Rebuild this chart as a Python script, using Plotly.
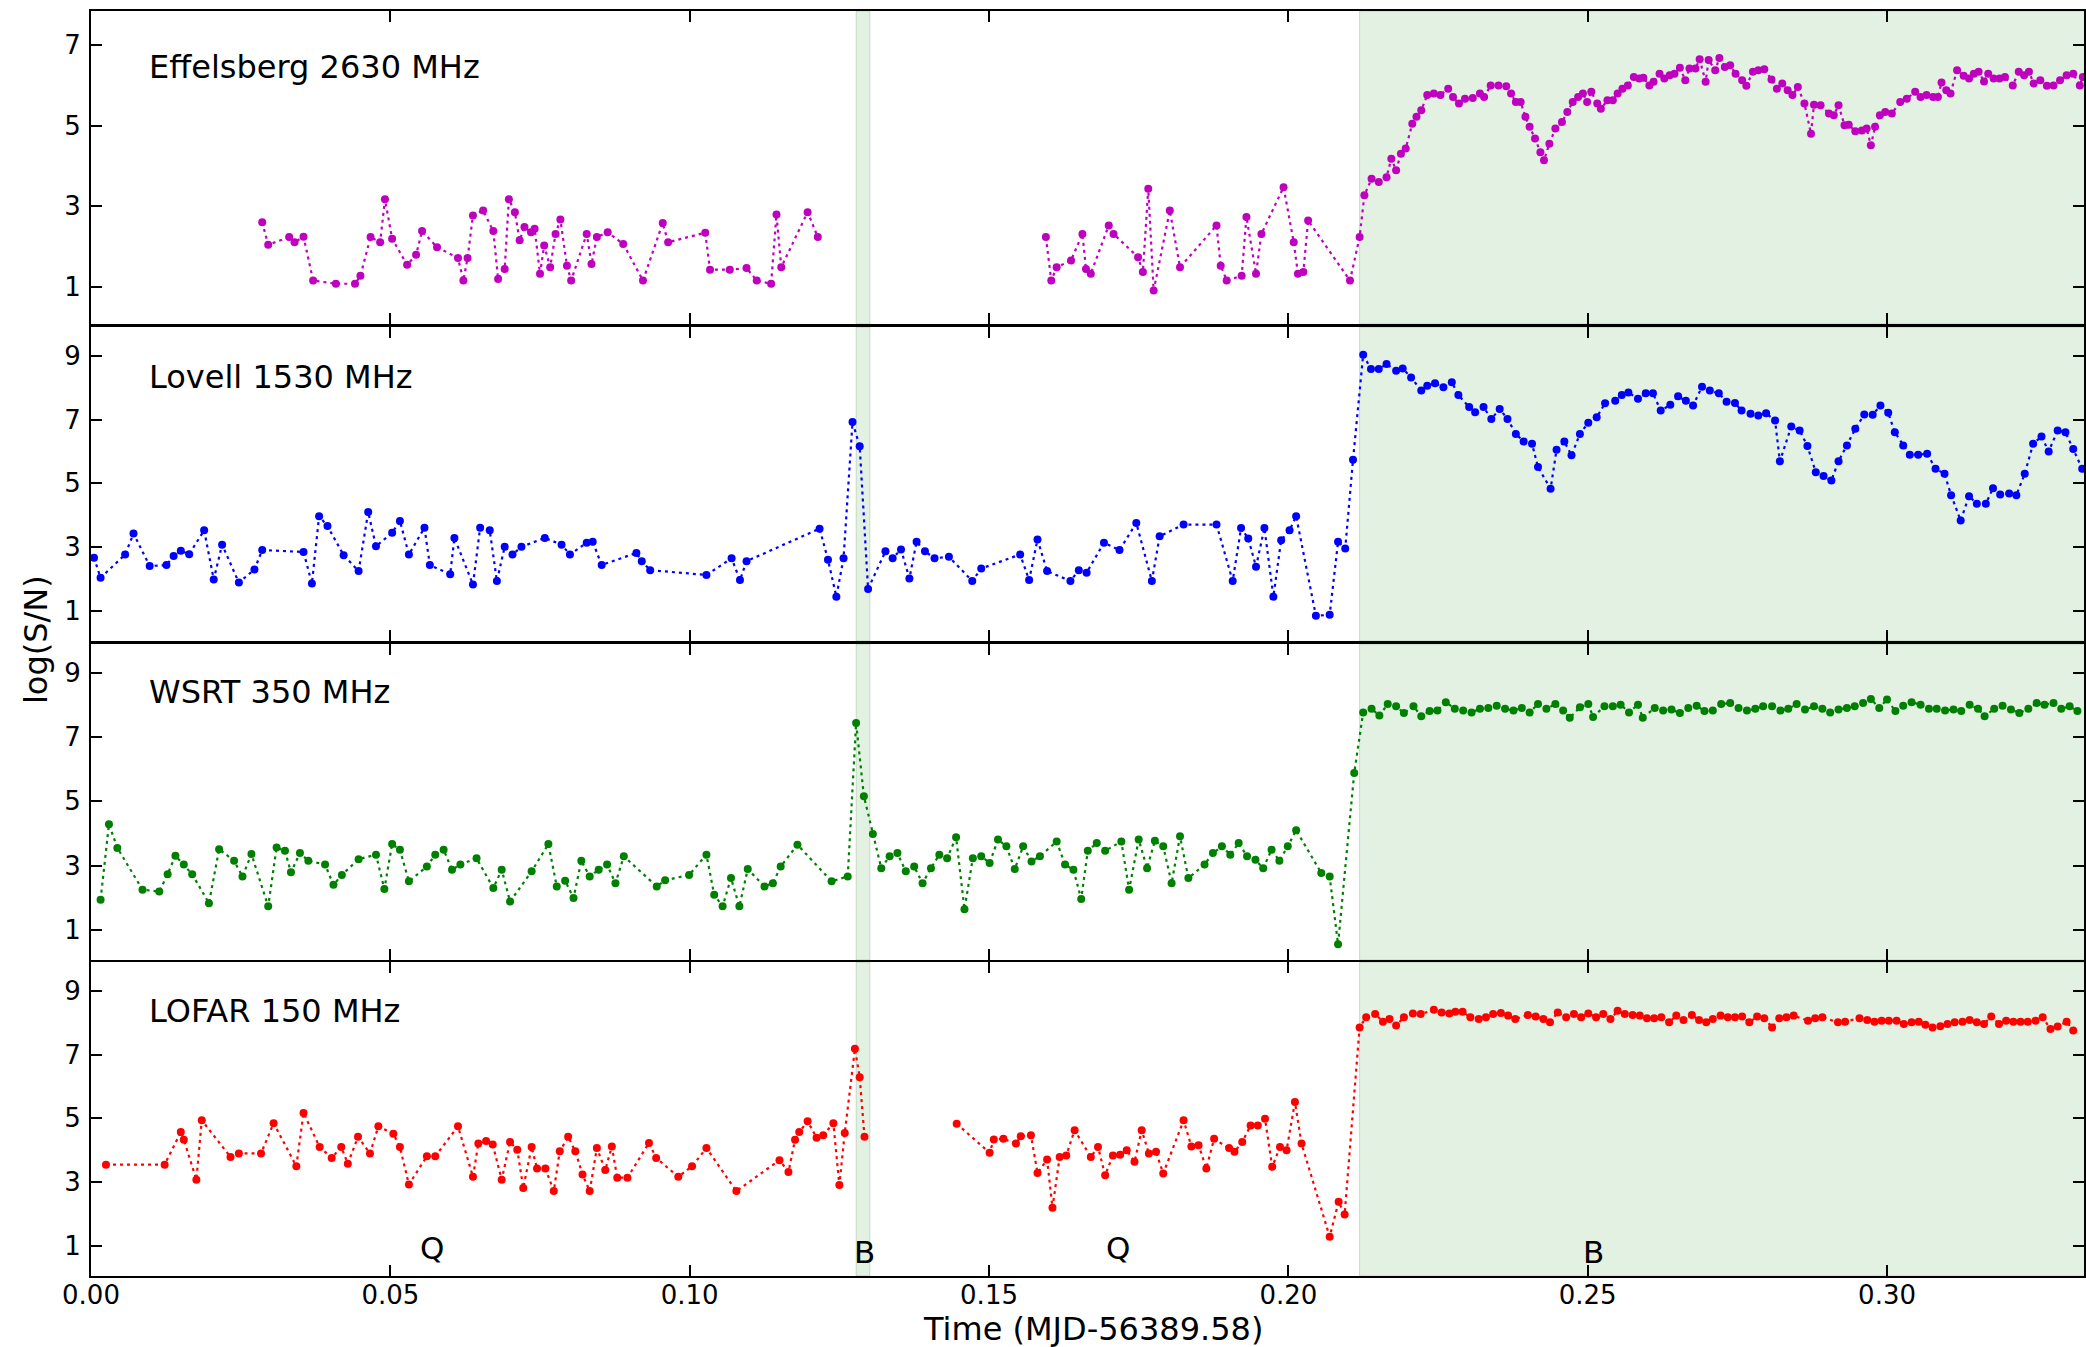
import plotly.graph_objects as go

# ---------------------------------------------------------------- data
# Time in days since MJD 56389.58, values are log(S/N).  None breaks the line.
eff_t = [0.0286, 0.0296, 0.0331, 0.0340, 0.0355, 0.0371, 0.0409, 0.0441, 0.0450, 0.0467,
         0.0483, 0.0491, 0.0503, 0.0528, 0.0543, 0.0553, 0.0578, 0.0613, 0.0622, 0.0629,
         0.0638, 0.0655, 0.0672, 0.0680, 0.0691, 0.0698, 0.0708, 0.0716, 0.0724, 0.0735,
         0.0741, 0.0750, 0.0757, 0.0767, 0.0776, 0.0784, 0.0795, 0.0802, 0.0828, 0.0836,
         0.0845, 0.0863, 0.0889, 0.0922, 0.0955, 0.0964, 0.1026, 0.1034, 0.1067, 0.1095,
         0.1112, 0.1136, 0.1145, 0.1153, 0.1197, 0.1214, None,
         0.1595, 0.1604, 0.1613, 0.1637, 0.1656, 0.1662, 0.1670, 0.1700, 0.1708, 0.1749,
         0.1757, 0.1766, 0.1775, 0.1802, 0.1819, 0.1880, 0.1887, 0.1897, 0.1922, 0.1930,
         0.1946, 0.1955, 0.1992, 0.2009, 0.2016, 0.2025, 0.2033, 0.2103, 0.2119, 0.2127,
         0.2139, 0.2151, 0.2164, 0.2172, 0.2180, 0.2188, 0.2196, 0.2207, 0.2214, 0.2222,
         0.2232, 0.2243, 0.2254, 0.2267, 0.2275, 0.2285, 0.2295, 0.2308, 0.2320, 0.2327,
         0.2338, 0.2351, 0.2364, 0.2372, 0.2380, 0.2388, 0.2396, 0.2403, 0.2412, 0.2421,
         0.2427, 0.2436, 0.2446, 0.2457, 0.2466, 0.2475, 0.2484, 0.2492, 0.2499, 0.2506,
         0.2516, 0.2522, 0.2533, 0.2542, 0.2550, 0.2558, 0.2567, 0.2577, 0.2586, 0.2593,
         0.2603, 0.2610, 0.2620, 0.2628, 0.2637, 0.2645, 0.2654, 0.2663, 0.2670, 0.2680,
         0.2687, 0.2697, 0.2702, 0.2713, 0.2720, 0.2729, 0.2738, 0.2747, 0.2758, 0.2765,
         0.2776, 0.2785, 0.2795, 0.2807, 0.2816, 0.2825, 0.2834, 0.2842, 0.2851, 0.2862,
         0.2873, 0.2878, 0.2889, 0.2903, 0.2911, 0.2919, 0.2929, 0.2936, 0.2947, 0.2958,
         0.2966, 0.2973, 0.2980, 0.2988, 0.2997, 0.3008, 0.3022, 0.3033, 0.3047, 0.3056,
         0.3066, 0.3077, 0.3085, 0.3091, 0.3099, 0.3106, 0.3117, 0.3128, 0.3137, 0.3145,
         0.3153, 0.3162, 0.3169, 0.3178, 0.3188, 0.3197, 0.3210, 0.3220, 0.3229, 0.3237,
         0.3245, 0.3256, 0.3267, 0.3278, 0.3289, 0.3300, 0.3311, 0.3322, 0.3327]
eff_v = [2.60, 2.04, 2.23, 2.10, 2.24, 1.15, 1.07, 1.07, 1.27, 2.23,
         2.10, 3.17, 2.19, 1.54, 1.79, 2.38, 1.98, 1.71, 1.15, 1.71,
         2.77, 2.89, 2.38, 1.19, 1.44, 3.17, 2.85, 2.15, 2.48, 2.35,
         2.44, 1.32, 2.02, 1.48, 2.31, 2.67, 1.52, 1.15, 2.31, 1.56,
         2.23, 2.35, 2.06, 1.15, 2.58, 2.10, 2.34, 1.42, 1.42, 1.46,
         1.15, 1.07, 2.79, 1.48, 2.85, 2.23, None,
         2.23, 1.15, 1.48, 1.65, 2.31, 1.44, 1.32, 2.52, 2.31, 1.73,
         1.36, 3.43, 0.90, 2.89, 1.48, 2.52, 1.52, 1.15, 1.27, 2.73,
         1.32, 2.31, 3.47, 2.10, 1.32, 1.36, 2.64, 1.15, 2.23, 3.27,
         3.68, 3.60, 3.72, 4.18, 3.89, 4.30, 4.43, 5.05, 5.22, 5.38,
         5.76, 5.80, 5.76, 5.92, 5.71, 5.55, 5.67, 5.69, 5.80, 5.71,
         6.00, 6.00, 5.98, 5.80, 5.59, 5.59, 5.22, 4.97, 4.68, 4.34,
         4.14, 4.55, 4.93, 5.09, 5.34, 5.59, 5.71, 5.80, 5.59, 5.84,
         5.55, 5.42, 5.63, 5.63, 5.80, 5.92, 6.00, 6.21, 6.17, 6.19,
         6.00, 6.09, 6.29, 6.17, 6.25, 6.29, 6.44, 6.13, 6.42, 6.42,
         6.65, 6.09, 6.63, 6.38, 6.68, 6.46, 6.50, 6.29, 6.13, 5.99,
         6.34, 6.38, 6.40, 6.15, 5.92, 6.05, 5.88, 5.76, 5.96, 5.55,
         4.80, 5.52, 5.51, 5.30, 5.26, 5.51, 5.01, 5.02, 4.86, 4.88,
         4.93, 4.51, 4.97, 5.26, 5.34, 5.30, 5.59, 5.67, 5.84, 5.71,
         5.76, 5.71, 5.71, 6.07, 5.88, 5.80, 6.38, 6.24, 6.17, 6.29,
         6.34, 6.10, 6.29, 6.17, 6.17, 6.21, 6.00, 6.34, 6.25, 6.34,
         6.05, 6.13, 5.99, 6.00, 6.13, 6.25, 6.29, 6.00, 6.21]

lov_t = [0.0005, 0.0016, 0.0057, 0.0071, 0.0098, 0.0126, 0.0138, 0.0150, 0.0164, 0.0189,
         0.0205, 0.0219, 0.0247, 0.0273, 0.0286, 0.0355, 0.0369, 0.0381, 0.0395, 0.0422,
         0.0447, 0.0463, 0.0476, 0.0503, 0.0516, 0.0531, 0.0557, 0.0566, 0.0600, 0.0607,
         0.0638, 0.0650, 0.0666, 0.0678, 0.0691, 0.0704, 0.0719, 0.0758, 0.0786, 0.0800,
         0.0828, 0.0838, 0.0853, 0.0911, 0.0920, 0.0934, 0.1028, 0.1070, 0.1084, 0.1095,
         0.1217, 0.1231, 0.1245, 0.1257, 0.1272, 0.1284, 0.1298, 0.1327, 0.1339, 0.1353,
         0.1367, 0.1379, 0.1393, 0.1409, 0.1433, 0.1472, 0.1487, 0.1552, 0.1567, 0.1581,
         0.1597, 0.1636, 0.1650, 0.1663, 0.1692, 0.1718, 0.1746, 0.1772, 0.1785, 0.1825,
         0.1880, 0.1907, 0.1921, 0.1933, 0.1946, 0.1960, 0.1975, 0.1988, 0.2002, 0.2013,
         0.2046, 0.2069, 0.2083, 0.2095, 0.2108, 0.2125, 0.2138, 0.2151, 0.2164, 0.2180,
         0.2191, 0.2205, 0.2222, 0.2232, 0.2245, 0.2259, 0.2273, 0.2284, 0.2302, 0.2312,
         0.2326, 0.2339, 0.2353, 0.2366, 0.2380, 0.2393, 0.2407, 0.2417, 0.2438, 0.2448,
         0.2461, 0.2473, 0.2487, 0.2501, 0.2515, 0.2529, 0.2546, 0.2557, 0.2568, 0.2584,
         0.2597, 0.2609, 0.2622, 0.2638, 0.2651, 0.2664, 0.2676, 0.2691, 0.2704, 0.2719,
         0.2732, 0.2746, 0.2757, 0.2772, 0.2785, 0.2798, 0.2813, 0.2821, 0.2840, 0.2854,
         0.2867, 0.2881, 0.2894, 0.2907, 0.2919, 0.2933, 0.2947, 0.2962, 0.2976, 0.2989,
         0.3002, 0.3013, 0.3027, 0.3038, 0.3052, 0.3067, 0.3081, 0.3096, 0.3107, 0.3123,
         0.3137, 0.3150, 0.3165, 0.3177, 0.3189, 0.3204, 0.3216, 0.3230, 0.3244, 0.3258,
         0.3270, 0.3285, 0.3298, 0.3311, 0.3326]
lov_v = [2.67, 2.04, 2.77, 3.43, 2.41, 2.44, 2.72, 2.89, 2.78, 3.53,
         1.99, 3.08, 1.89, 2.30, 2.91, 2.85, 1.86, 3.97, 3.66, 2.75,
         2.25, 4.10, 3.03, 3.45, 3.82, 2.77, 3.61, 2.44, 2.15, 3.29,
         1.83, 3.61, 3.53, 1.94, 3.01, 2.77, 3.01, 3.29, 3.08, 2.77,
         3.14, 3.17, 2.44, 2.82, 2.56, 2.28, 2.13, 2.65, 1.97, 2.56,
         3.58, 2.61, 1.45, 2.65, 6.92, 6.16, 1.69, 2.87, 2.65, 2.93,
         2.02, 3.17, 2.87, 2.65, 2.70, 1.94, 2.33, 2.77, 1.97, 3.24,
         2.25, 1.94, 2.28, 2.20, 3.14, 2.91, 3.76, 1.94, 3.34, 3.71,
         3.71, 1.94, 3.60, 3.27, 2.39, 3.60, 1.45, 3.22, 3.53, 3.97,
         0.85, 0.88, 3.17, 2.96, 5.74, 9.03, 8.58, 8.58, 8.74, 8.53,
         8.60, 8.32, 7.91, 8.06, 8.14, 8.01, 8.17, 7.77, 7.39, 7.23,
         7.39, 7.02, 7.33, 7.02, 6.55, 6.31, 6.24, 5.51, 4.83, 6.05,
         6.31, 5.88, 6.55, 6.90, 7.07, 7.51, 7.59, 7.77, 7.85, 7.65,
         7.82, 7.82, 7.28, 7.46, 7.73, 7.59, 7.44, 8.03, 7.91, 7.82,
         7.56, 7.52, 7.28, 7.18, 7.13, 7.20, 6.97, 5.69, 6.78, 6.66,
         6.17, 5.35, 5.23, 5.09, 5.69, 6.19, 6.71, 7.16, 7.15, 7.44,
         7.21, 6.60, 6.19, 5.90, 5.90, 5.93, 5.46, 5.30, 4.63, 3.84,
         4.60, 4.36, 4.36, 4.85, 4.65, 4.68, 4.63, 5.30, 6.24, 6.47,
         6.00, 6.66, 6.60, 6.08, 5.46]

wsrt_t = [0.0016, 0.0030, 0.0044, 0.0086, 0.0114, 0.0128, 0.0141, 0.0155, 0.0169, 0.0197,
          0.0214, 0.0239, 0.0253, 0.0268, 0.0296, 0.0310, 0.0324, 0.0334, 0.0349, 0.0363,
          0.0391, 0.0405, 0.0419, 0.0447, 0.0476, 0.0490, 0.0503, 0.0516, 0.0531, 0.0561,
          0.0575, 0.0589, 0.0603, 0.0617, 0.0644, 0.0672, 0.0686, 0.0700, 0.0736, 0.0764,
          0.0778, 0.0792, 0.0806, 0.0819, 0.0833, 0.0848, 0.0862, 0.0876, 0.0890, 0.0945,
          0.0959, 0.0999, 0.1028, 0.1041, 0.1055, 0.1069, 0.1083, 0.1097, 0.1125, 0.1139,
          0.1152, 0.1180, 0.1237, 0.1264, 0.1278, 0.1291, 0.1306, 0.1320, 0.1334, 0.1347,
          0.1361, 0.1375, 0.1389, 0.1403, 0.1417, 0.1430, 0.1445, 0.1459, 0.1473, 0.1487,
          0.1501, 0.1515, 0.1529, 0.1543, 0.1557, 0.1571, 0.1585, 0.1613, 0.1627, 0.1641,
          0.1654, 0.1665, 0.1680, 0.1694, 0.1721, 0.1734, 0.1750, 0.1764, 0.1777, 0.1791,
          0.1805, 0.1819, 0.1833, 0.1860, 0.1874, 0.1889, 0.1903, 0.1917, 0.1931, 0.1945,
          0.1958, 0.1972, 0.1985, 0.1999, 0.2013, 0.2055, 0.2069, 0.2083, 0.2110, 0.2125,
          0.2139, 0.2152, 0.2166, 0.2180, 0.2193, 0.2209, 0.2222, 0.2236, 0.2249, 0.2263,
          0.2278, 0.2292, 0.2306, 0.2320, 0.2334, 0.2348, 0.2362, 0.2376, 0.2390, 0.2403,
          0.2417, 0.2431, 0.2446, 0.2459, 0.2470, 0.2487, 0.2501, 0.2509, 0.2528, 0.2542,
          0.2555, 0.2569, 0.2584, 0.2592, 0.2612, 0.2626, 0.2640, 0.2654, 0.2668, 0.2682,
          0.2695, 0.2709, 0.2723, 0.2738, 0.2752, 0.2766, 0.2780, 0.2793, 0.2808, 0.2822,
          0.2835, 0.2849, 0.2863, 0.2878, 0.2892, 0.2905, 0.2919, 0.2933, 0.2946, 0.2960,
          0.2973, 0.2987, 0.3000, 0.3014, 0.3027, 0.3041, 0.3056, 0.3070, 0.3083, 0.3097,
          0.3111, 0.3124, 0.3138, 0.3152, 0.3163, 0.3179, 0.3193, 0.3207, 0.3221, 0.3236,
          0.3250, 0.3263, 0.3278, 0.3291, 0.3305, 0.3318]
wsrt_v = [1.94, 4.29, 3.55, 2.25, 2.19, 2.73, 3.31, 3.03, 2.73, 1.83,
          3.51, 3.15, 2.66, 3.36, 1.73, 3.56, 3.46, 2.79, 3.39, 3.15,
          3.03, 2.40, 2.71, 3.20, 3.34, 2.27, 3.67, 3.49, 2.51, 2.97,
          3.34, 3.49, 2.87, 3.03, 3.23, 2.30, 2.87, 1.88, 2.82, 3.67,
          2.35, 2.53, 1.99, 3.15, 2.66, 2.87, 3.03, 2.45, 3.29, 2.35,
          2.54, 2.71, 3.34, 2.09, 1.73, 2.61, 1.73, 2.89, 2.35, 2.45,
          2.97, 3.65, 2.51, 2.66, 7.44, 5.16, 3.98, 2.92, 3.29, 3.39,
          2.82, 2.97, 2.45, 2.92, 3.34, 3.23, 3.88, 1.64, 3.23, 3.29,
          3.08, 3.81, 3.60, 2.89, 3.60, 3.13, 3.29, 3.75, 3.03, 2.87,
          1.96, 3.46, 3.70, 3.46, 3.75, 2.25, 3.81, 2.92, 3.77, 3.60,
          2.45, 3.91, 2.61, 3.03, 3.39, 3.60, 3.34, 3.70, 3.29, 3.18,
          2.92, 3.49, 3.15, 3.60, 4.10, 2.77, 2.66, 0.55, 5.88, 7.77,
          7.88, 7.67, 8.03, 7.96, 7.75, 7.96, 7.65, 7.81, 7.83, 8.09,
          7.88, 7.83, 7.77, 7.88, 7.91, 7.98, 7.88, 7.83, 7.91, 7.77,
          8.03, 7.88, 8.03, 7.83, 7.60, 7.93, 8.03, 7.63, 7.96, 7.96,
          8.01, 7.77, 8.01, 7.60, 7.91, 7.83, 7.86, 7.75, 7.91, 7.98,
          7.81, 7.83, 8.03, 8.06, 7.91, 7.83, 7.88, 7.96, 7.96, 7.83,
          7.88, 8.03, 7.86, 7.96, 7.88, 7.77, 7.86, 7.91, 7.96, 8.06,
          8.19, 7.91, 8.17, 7.81, 7.98, 8.09, 8.01, 7.88, 7.88, 7.83,
          7.86, 7.81, 8.01, 7.88, 7.65, 7.88, 7.98, 7.86, 7.75, 7.88,
          8.06, 8.01, 8.06, 7.88, 7.96, 7.81]

lofar_t = [0.0025, 0.0123, 0.0150, 0.0155, 0.0176, 0.0185, 0.0233, 0.0247, 0.0284, 0.0305,
           0.0343, 0.0355, 0.0382, 0.0402, 0.0418, 0.0429, 0.0446, 0.0466, 0.0480, 0.0505,
           0.0516, 0.0531, 0.0561, 0.0575, 0.0613, 0.0638, 0.0647, 0.0660, 0.0671, 0.0686,
           0.0700, 0.0712, 0.0722, 0.0736, 0.0745, 0.0759, 0.0773, 0.0783, 0.0797, 0.0809,
           0.0821, 0.0833, 0.0845, 0.0859, 0.0870, 0.0879, 0.0896, 0.0932, 0.0944, 0.0981,
           0.1004, 0.1028, 0.1078, 0.1150, 0.1165, 0.1176, 0.1183, 0.1197, 0.1212, 0.1223,
           0.1240, 0.1250, 0.1259, 0.1276, 0.1284, 0.1292, None,
           0.1446, 0.1501, 0.1508, 0.1524, 0.1545, 0.1553, 0.1570, 0.1581, 0.1597, 0.1606,
           0.1618, 0.1629, 0.1643, 0.1670, 0.1682, 0.1694, 0.1707, 0.1719, 0.1730, 0.1743,
           0.1755, 0.1767, 0.1779, 0.1791, 0.1825, 0.1838, 0.1850, 0.1863, 0.1876, 0.1901,
           0.1910, 0.1923, 0.1937, 0.1949, 0.1961, 0.1973, 0.1986, 0.1997, 0.2011, 0.2022,
           0.2069, 0.2084, 0.2094, 0.2119, 0.2130, 0.2145, 0.2158, 0.2169, 0.2180, 0.2193,
           0.2208, 0.2221, 0.2243, 0.2256, 0.2269, 0.2279, 0.2291, 0.2304, 0.2318, 0.2330,
           0.2342, 0.2355, 0.2367, 0.2379, 0.2400, 0.2413, 0.2426, 0.2437, 0.2450, 0.2464,
           0.2477, 0.2489, 0.2501, 0.2514, 0.2526, 0.2538, 0.2550, 0.2562, 0.2575, 0.2587,
           0.2599, 0.2611, 0.2623, 0.2636, 0.2648, 0.2660, 0.2674, 0.2686, 0.2698, 0.2709,
           0.2722, 0.2734, 0.2746, 0.2758, 0.2770, 0.2783, 0.2795, 0.2808, 0.2820, 0.2832,
           0.2844, 0.2868, 0.2880, 0.2892, 0.2918, 0.2930, 0.2954, 0.2967, 0.2979, 0.2991,
           0.3003, 0.3016, 0.3028, 0.3041, 0.3053, 0.3064, 0.3076, 0.3089, 0.3101, 0.3113,
           0.3126, 0.3138, 0.3150, 0.3162, 0.3174, 0.3187, 0.3199, 0.3211, 0.3223, 0.3235,
           0.3248, 0.3260, 0.3273, 0.3285, 0.3300, 0.3311]
lofar_v = [3.55, 3.55, 4.57, 4.33, 3.08, 4.94, 3.79, 3.90, 3.90, 4.85,
           3.50, 5.17, 4.10, 3.76, 4.10, 3.58, 4.42, 3.90, 4.75, 4.52,
           4.10, 2.93, 3.81, 3.81, 4.75, 3.17, 4.21, 4.29, 4.18, 3.08,
           4.26, 4.02, 2.82, 4.10, 3.43, 3.43, 2.72, 3.97, 4.42, 3.97,
           3.24, 2.72, 4.07, 3.38, 4.12, 3.14, 3.14, 4.23, 3.76, 3.17,
           3.50, 4.07, 2.72, 3.69, 3.32, 4.33, 4.57, 4.91, 4.39, 4.47,
           4.85, 2.91, 4.54, 7.18, 6.29, 4.42, None,
           4.83, 3.92, 4.34, 4.36, 4.21, 4.44, 4.47, 3.29, 3.71, 2.20,
           3.79, 3.84, 4.63, 3.79, 4.10, 3.22, 3.84, 3.86, 4.00, 3.64,
           4.63, 3.90, 3.95, 3.27, 4.94, 4.12, 4.16, 3.43, 4.36, 4.07,
           3.95, 4.26, 4.78, 4.78, 4.99, 3.48, 4.10, 4.00, 5.51, 4.21,
           1.29, 2.39, 1.99, 7.85, 8.17, 8.27, 8.03, 8.11, 7.91, 8.17,
           8.29, 8.27, 8.40, 8.32, 8.29, 8.34, 8.34, 8.17, 8.11, 8.17,
           8.27, 8.30, 8.22, 8.11, 8.24, 8.19, 8.11, 8.01, 8.32, 8.17,
           8.27, 8.17, 8.29, 8.17, 8.27, 8.11, 8.37, 8.27, 8.24, 8.22,
           8.14, 8.14, 8.17, 8.01, 8.22, 8.08, 8.24, 8.08, 8.01, 8.11,
           8.22, 8.17, 8.17, 8.19, 8.01, 8.19, 8.14, 7.85, 8.14, 8.17,
           8.22, 8.06, 8.14, 8.17, 8.01, 8.03, 8.14, 8.08, 8.03, 8.06,
           8.06, 8.06, 7.96, 8.01, 8.03, 7.93, 7.85, 7.89, 7.96, 8.01,
           8.03, 8.08, 8.01, 7.96, 8.19, 7.96, 8.06, 8.03, 8.03, 8.03,
           8.06, 8.17, 7.80, 7.88, 8.03, 7.75]

panel_names = ["Effelsberg 2630 MHz", "Lovell 1530 MHz", "WSRT 350 MHz", "LOFAR 150 MHz"]
panel_colors = ["#bf00bf", "#0000ff", "#008000", "#ff0000"]
panel_times = [eff_t, lov_t, wsrt_t, lofar_t]
panel_values = [eff_v, lov_v, wsrt_v, lofar_v]

# Mode intervals (B = bright, Q = quiet) and their labels
bright_spans = [(0.1278, 0.1301), (0.2119, 0.3400)]
mode_labels = ["Q", "B", "Q", "B"]
mode_label_t = [0.0569, 0.1292, 0.1715, 0.2510]
mode_label_y = [0.95, 0.82, 0.95, 0.82]

x_ticks = [0.00, 0.05, 0.10, 0.15, 0.20, 0.25, 0.30]
y_ticks_top = [1, 3, 5, 7]
y_ticks = [1, 3, 5, 7, 9]

# ---------------------------------------------------------------- layout
W, H = 2086, 1347
M_L, M_R, M_T, M_B = 91, 0, 11, 71
X_RANGE = [0.0, 0.3329]
Y_RANGES = [[0.07, 7.85], [0.06, 9.9], [0.06, 9.9], [0.06, 9.9]]
# panel top/bottom in pixels (figure coords)
PANEL_PX = [(11, 324), (327, 641), (644, 960), (962, 1276)]
LABEL_Y = [6.46, 8.34, 8.39, 8.38]

plot_h = H - M_T - M_B
FONT = "DejaVu Sans"

fig = go.Figure()
layout = dict(
    width=W, height=H,
    margin=dict(l=M_L, r=M_R, t=M_T, b=M_B),
    paper_bgcolor="white", plot_bgcolor="white",
    showlegend=False,
    font=dict(family=FONT, size=26, color="black"),
)

axis_common = dict(
    showline=True, linecolor="black", linewidth=2, mirror="ticks",
    ticks="inside", ticklen=11, tickwidth=1.5, tickcolor="black",
    showgrid=False, zeroline=False,
    tickfont=dict(family=FONT, size=26, color="black"),
)

shapes = []
annotations = []
for i in range(4):
    k = "" if i == 0 else str(i + 1)
    top_px, bot_px = PANEL_PX[i]
    dom = [(H - M_B - bot_px) / plot_h, (H - M_B - top_px) / plot_h]
    layout["xaxis" + k] = dict(
        axis_common, range=X_RANGE, domain=[0, 1], anchor="y" + k,
        tickvals=x_ticks, tickformat=".2f",
        showticklabels=(i == 3), ticklabelstandoff=-5,
        **({} if i == 0 else {"matches": "x"}),
    )
    layout["yaxis" + k] = dict(
        axis_common, range=Y_RANGES[i], domain=dom, anchor="x" + k,
        tickvals=y_ticks_top if i == 0 else y_ticks, ticklabelstandoff=3,
    )

    fig.add_trace(go.Scatter(
        x=panel_times[i], y=panel_values[i], xaxis="x" + k, yaxis="y" + k,
        mode="lines+markers", connectgaps=False,
        line=dict(color=panel_colors[i], width=2.2, dash="3px,4px"),
        marker=dict(color=panel_colors[i], size=8, line=dict(width=0)),
    ))

    for x0, x1 in bright_spans:
        shapes.append(dict(
            type="rect", xref="x" + k, yref="y" + k + " domain",
            x0=x0, x1=x1, y0=0, y1=1, layer="below",
            fillcolor="rgba(0,128,0,0.11)",
            line=dict(color="rgba(0,90,0,0.18)", width=1),
        ))

    annotations.append(dict(
        x=0.0094, y=LABEL_Y[i], xref="x" + k, yref="y" + k,
        text=panel_names[i], showarrow=False, xanchor="left", yanchor="middle",
        font=dict(family=FONT, size=32, color="black"),
    ))

# Q / B mode labels in the bottom panel
for lab, t, yv in zip(mode_labels, mode_label_t, mode_label_y):
    annotations.append(dict(
        x=t, y=yv, xref="x4", yref="y4", text=lab, showarrow=False,
        xanchor="center", yanchor="middle",
        font=dict(family=FONT, size=31, color="black"),
    ))

# shared axis titles
annotations.append(dict(
    x=(1093.6 - M_L) / (W - M_L - M_R), y=(H - M_B - 1329) / plot_h,
    xref="paper", yref="paper", text="Time (MJD-56389.58)", showarrow=False,
    xanchor="center", yanchor="middle", font=dict(family=FONT, size=32, color="black"),
))
annotations.append(dict(
    x=(36 - M_L) / (W - M_L - M_R), y=(H - M_B - 640) / plot_h,
    xref="paper", yref="paper", text="log(S/N)", showarrow=False, textangle=-90,
    xanchor="center", yanchor="middle", font=dict(family=FONT, size=32, color="black"),
))

layout["shapes"] = shapes
layout["annotations"] = annotations
fig.update_layout(**layout)

fig.write_html("out.html")
